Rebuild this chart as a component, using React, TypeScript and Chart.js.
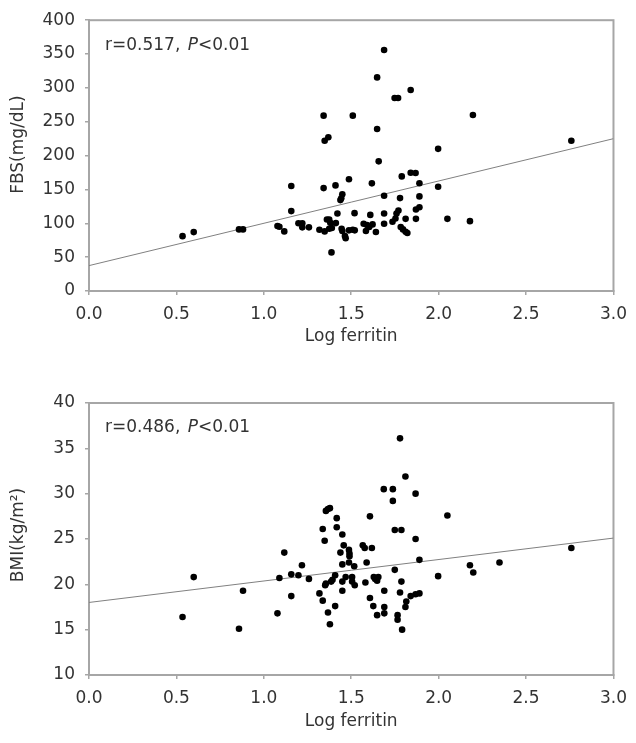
import React, { useEffect, useRef } from "react";
import { Chart, registerables } from "chart.js";

Chart.register(...registerables);

// ---------- data ----------
const fbsLogFerritin = [
  0.535, 0.599, 0.858, 0.881, 1.078, 1.089, 1.117, 1.157, 1.157, 1.198,
  1.22, 1.22, 1.258, 1.318, 1.342, 1.342, 1.348, 1.369, 1.348, 1.361,
  1.374, 1.38, 1.374, 1.389, 1.387, 1.41, 1.412, 1.421, 1.449, 1.443,
  1.438, 1.445, 1.449, 1.464, 1.468, 1.487, 1.487, 1.509, 1.52, 1.509,
  1.519, 1.571, 1.584, 1.59, 1.603, 1.609, 1.618, 1.622, 1.641, 1.648,
  1.648, 1.657, 1.688, 1.688, 1.688, 1.688, 1.736, 1.753, 1.748, 1.768,
  1.759, 1.77, 1.779, 1.789, 1.783, 1.796, 1.811, 1.821, 1.811, 1.84,
  1.84, 1.868, 1.87, 1.89, 1.87, 1.89, 1.89, 1.997, 1.997, 2.05,
  2.179, 2.196, 2.759,
];
const fbsValues = [
  81, 87, 91, 91, 96, 95, 88, 155, 118, 100,
  100, 94, 94, 90.5, 259, 152, 222, 227, 88, 105.7,
  105.7, 100.7, 92, 93, 57, 156, 100.3, 114.5, 143, 137,
  134.3, 92, 88.6, 81.3, 78, 165, 89.6, 90.5, 89.6, 259,
  115, 99.3, 88.6, 97.4, 94.5, 112.4, 159, 98.4, 87.2, 315.5,
  239.4, 191.5, 356, 140.7, 114.5, 99.3, 102.2, 107.2, 285, 285,
  114.5, 118.8, 137.2, 169.3, 94.5, 91, 87.6, 85.7, 106.6, 297,
  174.7, 174.3, 120.3, 123.6, 106.6, 139.7, 159.1, 210, 154, 106.6,
  103.2, 260, 222,
];

const bmiLogFerritin = [
  0.535, 0.599, 0.858, 0.881, 1.078, 1.089, 1.117, 1.157, 1.157, 1.198,
  1.218, 1.258, 1.318, 1.337, 1.337, 1.348, 1.351, 1.355, 1.355, 1.367,
  1.378, 1.367, 1.378, 1.385, 1.393, 1.408, 1.408, 1.417, 1.417, 1.438,
  1.449, 1.449, 1.449, 1.449, 1.457, 1.468, 1.487, 1.49, 1.49, 1.487,
  1.505, 1.505, 1.517, 1.52, 1.566, 1.577, 1.581, 1.588, 1.607, 1.607,
  1.618, 1.626, 1.629, 1.637, 1.648, 1.655, 1.648, 1.689, 1.689, 1.689,
  1.686, 1.738, 1.738, 1.749, 1.787, 1.749, 1.779, 1.787, 1.779, 1.765,
  1.765, 1.791, 1.81, 1.815, 1.81, 1.84, 1.868, 1.89, 1.868, 1.868,
  1.89, 1.997, 2.05, 2.179, 2.198, 2.348, 2.759,
];
const bmiValues = [
  16.4, 20.8, 15.1, 19.3, 16.8, 20.7, 23.5, 21.1, 18.7, 21.0,
  22.1, 20.6, 19.0, 18.2, 26.1, 24.8, 19.9, 20.1, 28.1, 28.3,
  28.4, 16.9, 15.6, 20.3, 20.5, 21.0, 17.6, 27.3, 26.3, 23.5,
  25.5, 22.2, 20.3, 19.3, 24.3, 20.8, 23.8, 23.4, 23.1, 22.4,
  20.8, 20.3, 22.0, 19.9, 24.3, 24.0, 20.2, 22.4, 27.5, 18.5,
  24.0, 17.6, 20.8, 20.6, 20.4, 20.8, 16.6, 19.3, 17.5, 16.8,
  30.5, 30.5, 29.2, 26.0, 26.0, 21.6, 36.1, 20.3, 19.1, 16.6,
  16.1, 15.0, 31.9, 18.1, 17.5, 18.7, 18.9, 19.0, 30.0, 25.0,
  22.7, 20.9, 27.6, 22.1, 21.3, 22.4, 24.0,
];

// regression lines (endpoints at x = 0 and x = 3)
const fitX = [0, 3];
const fbsFitY = [37.5, 225];
const bmiFitY = [18.0, 25.1];

// axis ticks
const xTicks = [0, 0.5, 1, 1.5, 2, 2.5, 3];
const fbsYTicks = [0, 50, 100, 150, 200, 250, 300, 350, 400];
const bmiYTicks = [10, 15, 20, 25, 30, 35, 40];

const xTitle = "Log ferritin";
const fbsYTitle = "FBS(mg/dL)";
const bmiYTitle = "BMI(kg/m\u00B2)";
const fbsR = "0.517";
const bmiR = "0.486";
const pText = "<0.01";

// ---------- style ----------
const FONT = "'DejaVu Sans', sans-serif";
const TEXT = "#333333";
const AXIS = "#a6a6a6";
const FS = 17;

function makeConfig(opts: {
  xs: number[];
  ys: number[];
  fitY: number[];
  yTicks: number[];
  yTitle: string;
  yTitleShift: number;
  r: string;
  padTop: number;
  xAxisHeight: number;
  xTitlePad: number;
}) {
  const pts = opts.xs.map((x, i) => ({ x, y: opts.ys[i] }));
  const fit = fitX.map((x, i) => ({ x, y: opts.fitY[i] }));

  const framePlugin = {
    id: "frame",
    beforeDatasetsDraw(chart: any) {
      const { ctx, chartArea } = chart;
      ctx.save();
      ctx.strokeStyle = AXIS;
      ctx.lineWidth = 2;
      ctx.strokeRect(
        chartArea.left,
        chartArea.top,
        chartArea.right - chartArea.left,
        chartArea.bottom - chartArea.top
      );
      ctx.restore();
    },
  };

  const textPlugin = {
    id: "texts",
    afterDraw(chart: any) {
      const { ctx, chartArea } = chart;
      ctx.save();
      ctx.fillStyle = TEXT;
      ctx.textBaseline = "middle";
      ctx.textAlign = "left";
      // correlation annotation
      let x = chartArea.left + 16;
      const y = chartArea.top + 25;
      const p1 = "r=" + opts.r + ", ";
      ctx.font = `${FS}px ${FONT}`;
      ctx.fillText(p1, x, y);
      x += ctx.measureText(p1).width + 2;
      ctx.font = `italic ${FS}px ${FONT}`;
      ctx.fillText("P", x, y);
      x += ctx.measureText("P").width;
      ctx.font = `${FS}px ${FONT}`;
      ctx.fillText(pText, x, y);
      // y-axis title
      const cy = (chartArea.top + chartArea.bottom) / 2 + opts.yTitleShift;
      ctx.translate(19, cy);
      ctx.rotate(-Math.PI / 2);
      ctx.textAlign = "center";
      ctx.fillText(opts.yTitle, 0, 0);
      ctx.restore();
    },
  };

  return {
    type: "scatter" as const,
    data: {
      datasets: [
        {
          type: "line" as const,
          data: fit,
          borderColor: "#808080",
          borderWidth: 1,
          pointRadius: 0,
          fill: false,
          order: 2,
        },
        {
          type: "scatter" as const,
          data: pts,
          backgroundColor: "#000000",
          borderWidth: 0,
          pointRadius: 3.3,
          order: 1,
        },
      ],
    },
    options: {
      animation: false as const,
      responsive: false,
      devicePixelRatio: 1,
      layout: { padding: { top: opts.padTop, right: 14, left: 0, bottom: 0 } },
      plugins: {
        legend: { display: false },
        tooltip: { enabled: false },
      },
      scales: {
        x: {
          type: "linear" as const,
          min: xTicks[0],
          max: xTicks[xTicks.length - 1],
          afterBuildTicks: (scale: any) => {
            scale.ticks = xTicks.map((v) => ({ value: v }));
          },
          afterFit: (scale: any) => {
            scale.height = opts.xAxisHeight;
          },
          ticks: {
            color: TEXT,
            font: { family: FONT, size: FS },
            padding: 9,
            maxRotation: 0,
            callback: (v: any) => Number(v).toFixed(1),
          },
          grid: {
            drawOnChartArea: false,
            drawTicks: true,
            tickLength: 4,
            color: AXIS,
            lineWidth: 1.5,
          },
          border: { display: true, color: AXIS, width: 2 },
          title: {
            display: true,
            text: xTitle,
            color: TEXT,
            font: { family: FONT, size: FS },
            padding: { top: 0, bottom: opts.xTitlePad },
          },
        },
        y: {
          type: "linear" as const,
          min: opts.yTicks[0],
          max: opts.yTicks[opts.yTicks.length - 1],
          afterBuildTicks: (scale: any) => {
            scale.ticks = opts.yTicks.map((v) => ({ value: v }));
          },
          afterFit: (scale: any) => {
            scale.width = 89;
          },
          ticks: {
            color: TEXT,
            font: { family: FONT, size: FS },
            padding: 10,
            callback: (v: any) => String(v),
          },
          grid: {
            drawOnChartArea: false,
            drawTicks: true,
            tickLength: 4,
            color: AXIS,
            lineWidth: 1.5,
          },
          border: { display: true, color: AXIS, width: 2 },
          title: { display: false },
        },
      },
    },
    plugins: [framePlugin, textPlugin],
  };
}

function Panel(props: { height: number; config: any }) {
  const ref = useRef<HTMLCanvasElement | null>(null);
  useEffect(() => {
    if (!ref.current) return;
    const chart = new Chart(ref.current, props.config);
    return () => chart.destroy();
  }, []);
  return (
    <canvas
      ref={ref}
      width={636}
      height={props.height}
      style={{ display: "block", width: 636, height: props.height }}
    />
  );
}

export default function App() {
  const topCfg = makeConfig({
    xs: fbsLogFerritin,
    ys: fbsValues,
    fitY: fbsFitY,
    yTicks: fbsYTicks,
    yTitle: fbsYTitle,
    yTitleShift: -11,
    r: fbsR,
    padTop: 17,
    xAxisHeight: 74,
    xTitlePad: 18,
  });
  const botCfg = makeConfig({
    xs: bmiLogFerritin,
    ys: bmiValues,
    fitY: bmiFitY,
    yTicks: bmiYTicks,
    yTitle: bmiYTitle,
    yTitleShift: -4,
    r: bmiR,
    padTop: 38,
    xAxisHeight: 68,
    xTitlePad: 11,
  });
  return (
    <div
      style={{
        position: "absolute",
        left: 0,
        top: 0,
        width: 636,
        height: 743,
        background: "#ffffff",
      }}
    >
      <Panel height={365} config={topCfg} />
      <Panel height={378} config={botCfg} />
    </div>
  );
}
